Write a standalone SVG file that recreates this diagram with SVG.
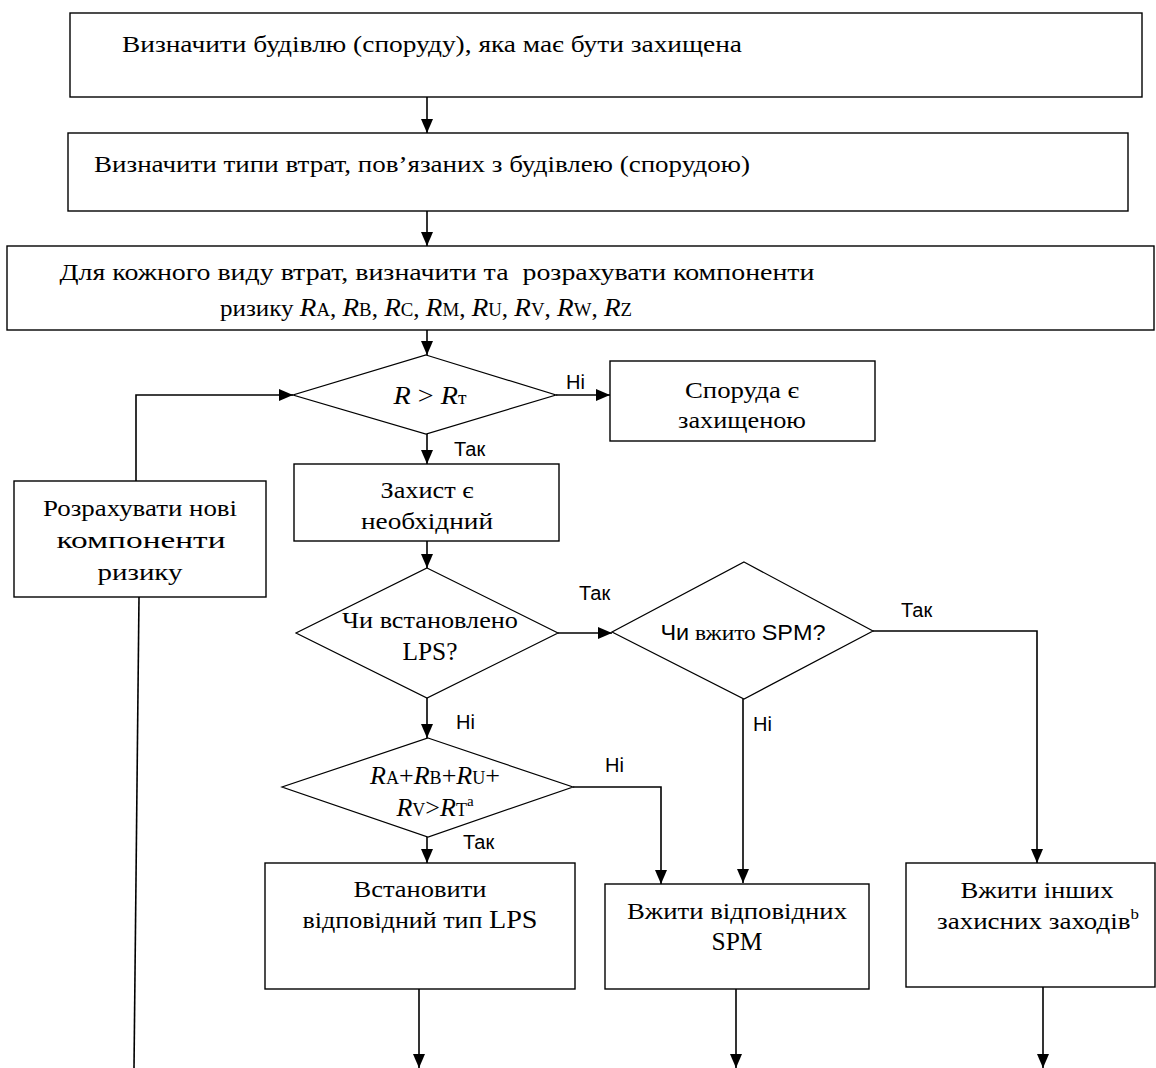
<svg xmlns="http://www.w3.org/2000/svg" width="1156" height="1068" viewBox="0 0 1156 1068">
<style>
.box{fill:#fff;stroke:#000;stroke-width:1.4}
.dia{fill:#fff;stroke:#000;stroke-width:1.2}
.t{font-family:"Liberation Serif","DejaVu Serif Condensed","DejaVu Serif","Times New Roman",serif;font-size:24px;fill:#000;text-anchor:middle}
.lbl{font-family:"Liberation Sans","DejaVu Sans",Arial,sans-serif;font-size:20px;fill:#000}
.c{fill:none;stroke:#000;stroke-width:1.6}
.i{font-style:italic;font-size:26px}
.lat{font-size:26px}
.sub{font-size:18px}
.sup{font-size:15px}
.sans{font-family:"Liberation Sans","DejaVu Sans Condensed","DejaVu Sans",Arial,sans-serif}
</style>
<defs>
<marker id="ah" markerUnits="userSpaceOnUse" markerWidth="14" markerHeight="12" refX="14" refY="6" orient="auto">
<path d="M0,0 L14,6 L0,12 Z" fill="#000"/>
</marker>
</defs>
<rect width="1156" height="1068" fill="#fff"/>

<g id="connectors">
<line class="c" x1="427" y1="97" x2="427" y2="133" marker-end="url(#ah)"/>
<line class="c" x1="427" y1="211" x2="427" y2="246" marker-end="url(#ah)"/>
<line class="c" x1="427" y1="330" x2="427" y2="355" marker-end="url(#ah)"/>
<polyline class="c" points="556,395 610,395" marker-end="url(#ah)"/>
<line class="c" x1="427" y1="434" x2="427" y2="464" marker-end="url(#ah)"/>
<line class="c" x1="427" y1="541" x2="427" y2="568" marker-end="url(#ah)"/>
<polyline class="c" points="136,481 136,395 293,395" marker-end="url(#ah)"/>
<line class="c" x1="139" y1="597" x2="134" y2="1068"/>
<polyline class="c" points="558,633 612,633" marker-end="url(#ah)"/>
<polyline class="c" points="873,631 1037,631 1037,863" marker-end="url(#ah)"/>
<line class="c" x1="427" y1="698" x2="427" y2="738" marker-end="url(#ah)"/>
<line class="c" x1="743" y1="699" x2="743" y2="883" marker-end="url(#ah)"/>
<polyline class="c" points="573,787 661,787 661,884" marker-end="url(#ah)"/>
<line class="c" x1="427" y1="837" x2="427" y2="863" marker-end="url(#ah)"/>
<line class="c" x1="419" y1="989" x2="419" y2="1068" marker-end="url(#ah)"/>
<line class="c" x1="736" y1="989" x2="736" y2="1068" marker-end="url(#ah)"/>
<line class="c" x1="1043" y1="987" x2="1043" y2="1068" marker-end="url(#ah)"/>
<text class="lbl" x="566" y="389">Ні</text>
<text class="lbl" x="454" y="456">Так</text>
<text class="lbl" x="579" y="600">Так</text>
<text class="lbl" x="901" y="617">Так</text>
<text class="lbl" x="456" y="729">Ні</text>
<text class="lbl" x="753" y="731">Ні</text>
<text class="lbl" x="605" y="772">Ні</text>
<text class="lbl" x="463" y="849">Так</text>
</g>

<g id="n1">
<rect class="box" x="70" y="13" width="1072" height="84"/>
<text class="t" x="432" y="52" textLength="620" lengthAdjust="spacingAndGlyphs">Визначити будівлю (споруду), яка має бути захищена</text>
</g>
<g id="n2">
<rect class="box" x="68" y="133" width="1060" height="78"/>
<text class="t" x="422" y="172" textLength="656" lengthAdjust="spacingAndGlyphs">Визначити типи втрат, пов’язаних з будівлею (спорудою)</text>
</g>
<g id="n3">
<rect class="box" x="7" y="246" width="1147" height="84"/>
<text class="t" x="437" y="280" xml:space="preserve" textLength="755" lengthAdjust="spacingAndGlyphs">Для кожного виду втрат, визначити та  розрахувати компоненти</text>
<text class="t" x="426" y="316" textLength="412" lengthAdjust="spacingAndGlyphs">ризику <tspan class="i">R</tspan><tspan class="sub">A</tspan>, <tspan class="i">R</tspan><tspan class="sub">B</tspan>, <tspan class="i">R</tspan><tspan class="sub">C</tspan>, <tspan class="i">R</tspan><tspan class="sub">M</tspan>, <tspan class="i">R</tspan><tspan class="sub">U</tspan>, <tspan class="i">R</tspan><tspan class="sub">V</tspan>, <tspan class="i">R</tspan><tspan class="sub">W</tspan>, <tspan class="i">R</tspan><tspan class="sub">Z</tspan></text>
</g>
<g id="d1">
<polygon class="dia" points="426,355 556,395 426,434 293,395"/>
<text class="t" x="430" y="404" textLength="73" lengthAdjust="spacingAndGlyphs"><tspan class="i">R</tspan><tspan class="lat"> &gt; </tspan><tspan class="i">R</tspan><tspan class="sub">т</tspan></text>
</g>
<g id="n4">
<rect class="box" x="610" y="361" width="265" height="80"/>
<text class="t" x="742" y="398" textLength="114" lengthAdjust="spacingAndGlyphs">Споруда є</text>
<text class="t" x="742" y="428" textLength="128" lengthAdjust="spacingAndGlyphs">захищеною</text>
</g>
<g id="n5">
<rect class="box" x="294" y="464" width="265" height="77"/>
<text class="t" x="427" y="498" textLength="93" lengthAdjust="spacingAndGlyphs">Захист є</text>
<text class="t" x="427" y="529" textLength="132" lengthAdjust="spacingAndGlyphs">необхідний</text>
</g>
<g id="n6">
<rect class="box" x="14" y="481" width="252" height="116"/>
<text class="t" x="140" y="516" textLength="194" lengthAdjust="spacingAndGlyphs">Розрахувати нові</text>
<text class="t" x="141" y="548" textLength="169" lengthAdjust="spacingAndGlyphs">компоненти</text>
<text class="t" x="140" y="580" textLength="85" lengthAdjust="spacingAndGlyphs">ризику</text>
</g>
<g id="d2">
<polygon class="dia" points="427,568 558,633 427,698 296,633"/>
<text class="t" x="430" y="628" textLength="176" lengthAdjust="spacingAndGlyphs">Чи встановлено</text>
<text class="t" x="430" y="660" textLength="55" lengthAdjust="spacingAndGlyphs"><tspan class="lat">LPS?</tspan></text>
</g>
<g id="d3">
<polygon class="dia" points="744,562 873,631 744,699 612,632"/>
<text class="t" x="743" y="640" style="font-size:22px" textLength="165" lengthAdjust="spacingAndGlyphs"><tspan class="sans">Чи</tspan> вжито <tspan class="sans">SPM?</tspan></text>
</g>
<g id="d4">
<polygon class="dia" points="428,738 573,787 428,837 282,787"/>
<text class="t" x="435" y="784" textLength="130" lengthAdjust="spacingAndGlyphs"><tspan class="i">R</tspan><tspan class="sub">A</tspan><tspan class="lat">+</tspan><tspan class="i">R</tspan><tspan class="sub">B</tspan><tspan class="lat">+</tspan><tspan class="i">R</tspan><tspan class="sub">U</tspan><tspan class="lat">+</tspan></text>
<text class="t" x="435" y="816"><tspan class="i">R</tspan><tspan class="sub">V</tspan><tspan class="lat">&gt;</tspan><tspan class="i">R</tspan><tspan class="sub">T</tspan><tspan class="sup" dy="-10">a</tspan></text>
</g>
<g id="n7">
<rect class="box" x="265" y="863" width="310" height="126"/>
<text class="t" x="420" y="897" textLength="133" lengthAdjust="spacingAndGlyphs">Встановити</text>
<text class="t" x="420" y="928" textLength="235" lengthAdjust="spacingAndGlyphs">відповідний тип <tspan class="lat">LPS</tspan></text>
</g>
<g id="n8">
<rect class="box" x="605" y="884" width="264" height="105"/>
<text class="t" x="737" y="919" textLength="220" lengthAdjust="spacingAndGlyphs">Вжити відповідних</text>
<text class="t" x="737" y="950" textLength="51" lengthAdjust="spacingAndGlyphs"><tspan class="lat">SPM</tspan></text>
</g>
<g id="n9">
<rect class="box" x="906" y="863" width="249" height="124"/>
<text class="t" x="1037" y="898" textLength="153" lengthAdjust="spacingAndGlyphs">Вжити інших</text>
<text class="t" x="1038" y="929" textLength="202" lengthAdjust="spacingAndGlyphs">захисних заходів<tspan class="sup" dy="-10">b</tspan></text>
</g>
</svg>
